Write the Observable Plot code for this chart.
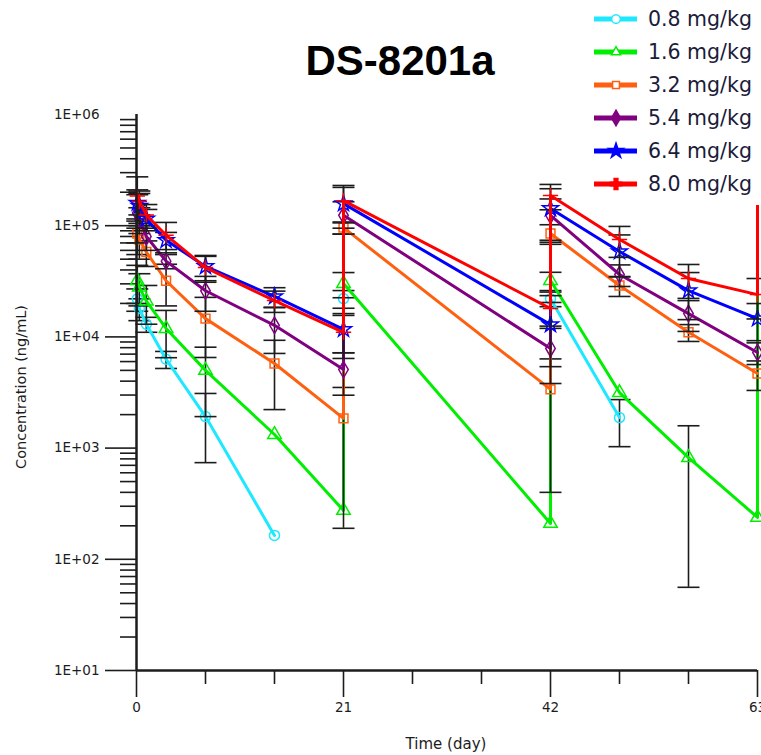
<!DOCTYPE html>
<html><head><meta charset="utf-8">
<script src="https://cdn.jsdelivr.net/npm/d3@7"></script>
<script src="https://cdn.jsdelivr.net/npm/@observablehq/plot@0.6"></script>
<style>
html,body{margin:0;padding:0;background:#fff;overflow:hidden;}
#wrap{position:relative;width:761px;height:755px;}
#legend{position:absolute;left:586px;top:0;width:175px;height:205px;background:#fff;}
</style></head><body><div id="wrap"></div>
<script>
// Sampling times (days): cycle 1 dense, then trough/peak at each dosing day
const times = [0.08, 0.29, 1, 3, 7, 14, 21, 21, 42, 42, 49, 56, 63, 63];
// whether a marker is shown at that sample (the last re-dose peak has none visible)
const showMarker = [true, true, true, true, true, true, true, true, true, true, true, true, true, false];

const doses = ["0.8 mg/kg", "1.6 mg/kg", "3.2 mg/kg", "5.4 mg/kg", "6.4 mg/kg", "8.0 mg/kg"];
const colors = ["#1ee8ff", "#00ee00", "#ff6010", "#800080", "#0000ff", "#ff0000"];
const symbols = ["circle", "triangle", "square", "diamond", "star", "plus"];

// Mean concentrations (ng/mL); null = not shown
const mean08 = [22000, 18000, 13000, 6300, 1920, 164, null, 22100, null, 22000, 1880, null, null, null];
const mean16 = [32000, 28000, 21000, 11900, 5000, 1325, 275, 30200, 210, 32100, 3160, 822, 238, 30000];
const mean32 = [85000, 75000, 58000, 32000, 14600, 5770, 1850, 96000, 3370, 85000, 29000, 11000, 4690, null];
const mean54 = [130000, 115000, 80000, 48000, 26000, 12700, 5090, 124000, 7870, 124000, 36400, 16200, 7240, null];
const mean64 = [160000, 150000, 115000, 74000, 43000, 23100, 11700, 158000, 12900, 143000, 58600, 26100, 14600, null];
const mean80 = [185000, 165000, 125000, 82000, 42000, 21200, 11000, 168000, 18000, 187000, 75200, 33500, 24000, 190000];

// Standard deviations (ng/mL); null = no error bar
const sd08 = [5000, 4000, 2000, 1100, 1180, null, null, 4000, null, 3300, 850, null, null, null];
const sd16 = [12000, 9000, 8000, 5400, 3080, null, null, 7700, null, 6000, null, 766, null, null];
const sd32 = [30000, 25000, 15000, 13000, 8070, 3550, 1660, 12000, 2970, 17000, 5900, 1900, 1390, null];
const sd54 = [60000, 30000, 20000, 7000, 9000, 5600, 2100, 40000, 4060, 50000, 8000, 5000, 1600, null];
const sd64 = [50000, 45000, 25000, 13000, 11000, 4600, 4500, 63000, 7500, 72000, 24000, 11800, 5350, null];
const sd80 = [90000, 40000, 30000, 25000, 11000, 4600, 4600, 62000, 5500, 48000, 23300, 11300, 9500, null];

const yMajor = [10, 100, 1000, 10000, 100000];
const yTop = [1000000];
const xMajor = [0, 21, 42, 63];
const xMinor = [7, 14, 28, 35, 49, 56];

const means = [mean08, mean16, mean32, mean54, mean64, mean80];
const sds = [sd08, sd16, sd32, sd54, sd64, sd80];

const yMinor = [];
for (let e = 1; e <= 5; e++) for (let k = 2; k <= 9; k++) yMinor.push(k * Math.pow(10, e));

const fmtE = d => "1E+" + String(Math.round(Math.log10(d))).padStart(2, "0");

const capSymbol = {
  draw(ctx, size) {
    const r = Math.sqrt(size / Math.PI);
    ctx.moveTo(-r, 0);
    ctx.lineTo(r, 0);
  }
};

const ink = "#1c1c1c";
const marks = [];
doses.forEach((dose, i) => {
  const rows = times.map((t, j) => ({dose, t, v: means[i][j], sd: sds[i][j], m: showMarker[j]}));
  const withSd = rows.filter(d => d.v != null && d.sd != null);
  marks.push(
    Plot.ruleX(withSd, {x: "t", y1: d => d.v - d.sd, y2: d => d.v + d.sd, stroke: ink, strokeWidth: 1.6}),
    Plot.dot(withSd, {x: "t", y: d => d.v + d.sd, symbol: capSymbol, r: 11, fill: "none", stroke: ink, strokeWidth: 1.6}),
    Plot.dot(withSd, {x: "t", y: d => d.v - d.sd, symbol: capSymbol, r: 11, fill: "none", stroke: ink, strokeWidth: 1.6}),
    Plot.line(rows, {x: "t", y: "v", stroke: colors[i], strokeWidth: 3}),
    Plot.dot(rows.filter(d => d.v != null && d.m), {x: "t", y: "v", symbol: symbols[i], r: 5, fill: "none", stroke: colors[i], strokeWidth: 1.5})
  );
});

const chart = Plot.plot({
  width: 761,
  height: 755,
  marginLeft: 136,
  marginRight: 4,
  marginTop: 114,
  marginBottom: 85,
  style: {fontFamily: "DejaVu Sans", fontSize: "13.5px", color: ink, background: "#fff"},
  x: {domain: [0, 63]},
  y: {type: "log", domain: [10, 1e6]},
  marks: [
    Plot.axisY({ticks: yMinor, tickSize: 16, tickFormat: () => "", label: null, stroke: ink, strokeWidth: 1.6}),
    Plot.axisY({ticks: yMajor, tickSize: 31, tickPadding: 6, tickFormat: fmtE, label: null, stroke: ink, strokeWidth: 1.6}),
    Plot.axisY({ticks: yTop, tickSize: 0, tickPadding: 37, tickFormat: fmtE, label: null}),
    Plot.axisX({ticks: xMinor, tickSize: 14, tickFormat: () => "", label: null, stroke: ink, strokeWidth: 1.6}),
    Plot.axisX({ticks: xMajor, tickSize: 27, tickPadding: 5, tickFormat: d => String(d), label: null, stroke: ink, strokeWidth: 1.6}),
    ...marks,
    Plot.ruleX([0], {stroke: ink, strokeWidth: 2.5}),
    Plot.ruleY([10], {stroke: ink, strokeWidth: 2.5})
  ]
});

const wrap = document.getElementById("wrap");
wrap.appendChild(chart);

const svg = d3.select(chart);
svg.append("text")
  .attr("x", 400).attr("y", 75)
  .attr("text-anchor", "middle")
  .style("font-family", "'Liberation Sans', Arial, sans-serif")
  .style("font-weight", "bold")
  .style("font-size", "42px")
  .attr("fill", "#000")
  .text("DS-8201a");
svg.append("text")
  .attr("transform", "translate(26,387) rotate(-90)")
  .attr("text-anchor", "middle")
  .style("font-family", "'DejaVu Sans', sans-serif")
  .style("font-size", "14.5px")
  .attr("fill", ink)
  .text("Concentration (ng/mL)");
svg.append("text")
  .attr("x", 446).attr("y", 749)
  .attr("text-anchor", "middle")
  .style("font-family", "'DejaVu Sans', sans-serif")
  .style("font-size", "15px")
  .attr("fill", ink)
  .text("Time (day)");

// Legend
const leg = d3.select(wrap).append("div").attr("id", "legend")
  .append("svg").attr("width", 175).attr("height", 205);
const symMap = {circle: d3.symbolCircle, triangle: d3.symbolTriangle2, square: d3.symbolSquare2,
  diamond: d3.symbolDiamond, star: d3.symbolStar, plus: d3.symbolCross};
doses.forEach((dose, i) => {
  const g = leg.append("g").attr("transform", `translate(0,${19 + 33 * i})`);
  g.append("line").attr("x1", 8).attr("x2", 51).attr("y1", 0).attr("y2", 0)
    .attr("stroke", colors[i]).attr("stroke-width", 5);
  const filled = i >= 3;
  g.append("path").attr("transform", "translate(30,0)")
    .attr("d", d3.symbol(symMap[symbols[i]], filled ? 70 : 60)())
    .attr("fill", filled ? colors[i] : "#fff")
    .attr("stroke", colors[i]).attr("stroke-width", 1.5);
  g.append("text").attr("x", 62).attr("y", 0).attr("dy", "0.36em")
    .style("font-family", "'DejaVu Sans', sans-serif")
    .style("font-size", "20.5px")
    .attr("fill", "#1b1b3a")
    .text(dose);
});
</script></body></html>
